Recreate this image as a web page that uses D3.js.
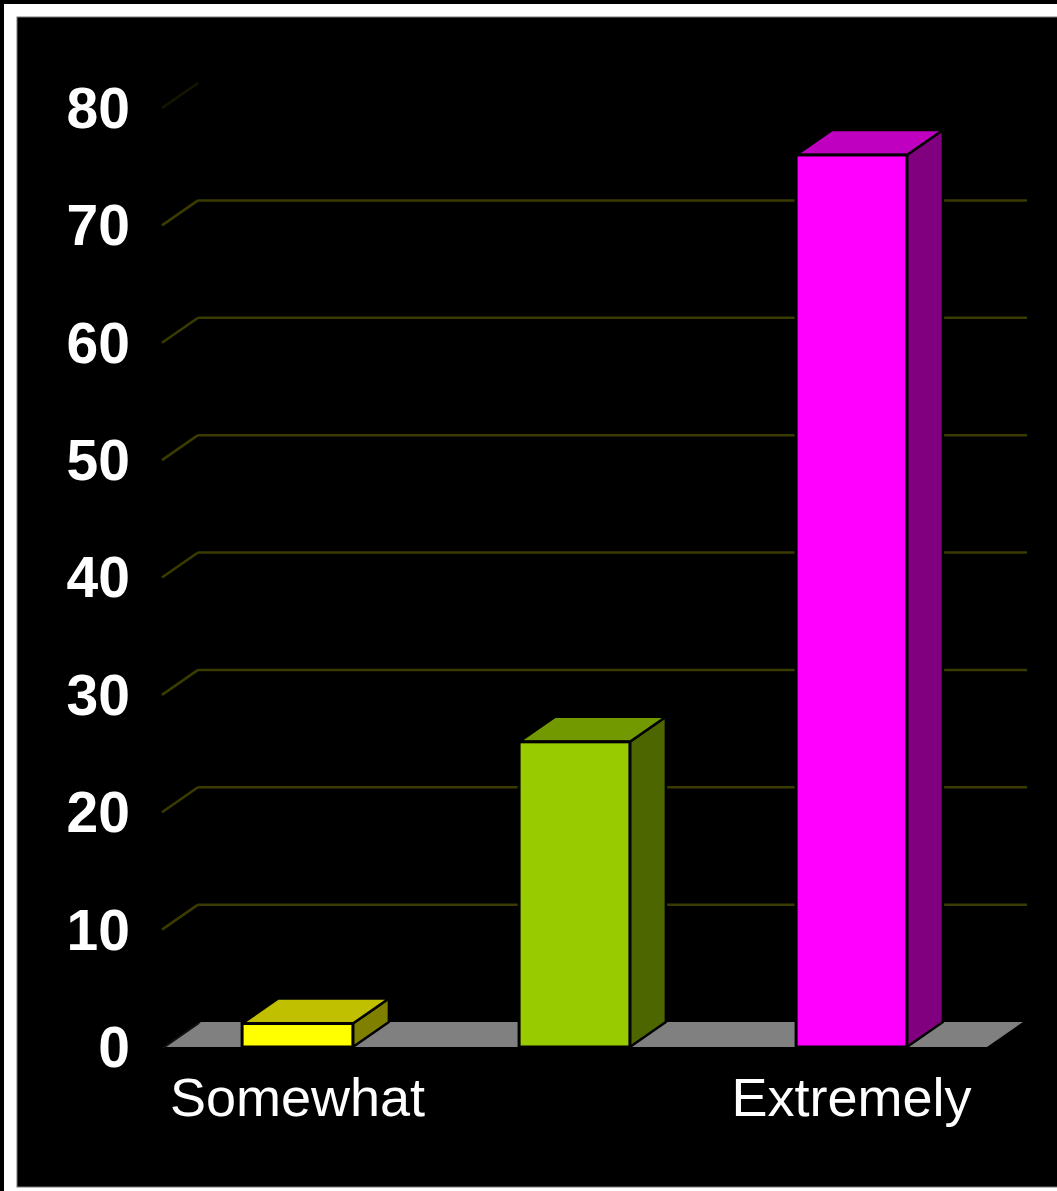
<!DOCTYPE html>
<html>
<head>
<meta charset="utf-8">
<script src="https://cdn.jsdelivr.net/npm/d3@7/dist/d3.min.js"></script>
<style>
  html, body { margin: 0; padding: 0; background: #000; }
  svg { display: block; }
</style>
</head>
<body>
<script>
// Chart data
const categoryLabels = ["Somewhat", "", "Extremely"];
const values = [2, 26, 76];
const yTicks = [0, 10, 20, 30, 40, 50, 60, 70, 80];

// Face colours per bar: front, top, side
const frontColors = ["#ffff00", "#99cc00", "#ff00ff"];
const topColors = ["#c0c000", "#739900", "#c000c0"];
const sideColors = ["#808000", "#4d6600", "#800080"];

const W = 1057, H = 1191;
const depthX = 36, depthY = -25;   // 3D offset to the back wall

const svg = d3.select("body").append("svg")
  .attr("width", W).attr("height", H);

// white frame around the black plot panel
svg.append("rect").attr("x", 0).attr("y", 0).attr("width", W).attr("height", H).attr("fill", "#000");
svg.append("rect").attr("x", 4).attr("y", 4).attr("width", W).attr("height", H - 4).attr("fill", "#fff");
svg.append("rect").attr("x", 17).attr("y", 17).attr("width", W).attr("height", 1170)
  .attr("fill", "#000").attr("stroke", "#777").attr("stroke-width", 1);

const x = d3.scaleBand().domain(d3.range(values.length)).range([159, 990]).paddingInner(0.6).paddingOuter(0.3);
const y = d3.scaleLinear().domain([0, 80]).range([1047, 108]);

// gridlines on the back wall plus the diagonal on the side wall
const wallX = 162;
const grid = svg.append("g");
yTicks.filter(t => t > 0 && t < 80).forEach(t => {
  grid.append("line")
    .attr("x1", wallX + depthX).attr("x2", 1027)
    .attr("y1", y(t) + depthY).attr("y2", y(t) + depthY)
    .attr("stroke", "#3b3b00").attr("stroke-width", 2.5);
});
yTicks.filter(t => t > 0).forEach(t => {
  grid.append("line")
    .attr("x1", wallX).attr("x2", wallX + depthX)
    .attr("y1", y(t)).attr("y2", y(t) + depthY)
    .attr("stroke", t === 80 ? "#161600" : "#3b3b00").attr("stroke-width", 2.5);
});

// floor
const x0 = wallX + 3, x1 = 987;
svg.append("path")
  .attr("d", `M${x0},${y(0)} L${x0 + depthX},${y(0) + depthY} L${x1 + depthX},${y(0) + depthY} L${x1},${y(0)} Z`)
  .attr("fill", "#808080");
svg.append("line")
  .attr("x1", x0 - 2).attr("y1", y(0) + 1).attr("x2", x0 + depthX - 2).attr("y2", y(0) + depthY + 1)
  .attr("stroke", "#111").attr("stroke-width", 2);

// bars
const bars = svg.append("g").selectAll("g").data(values).join("g");
bars.each(function (v, i) {
  const g = d3.select(this);
  const bx = x(i), bw = x.bandwidth(), top = y(v), base = y(0);
  g.append("path")
    .attr("d", `M${bx + bw},${base} L${bx + bw},${top} L${bx + bw + depthX},${top + depthY} L${bx + bw + depthX},${base + depthY} Z`)
    .attr("fill", sideColors[i]).attr("stroke", "#000").attr("stroke-width", 2.5).attr("stroke-linejoin", "round");
  g.append("path")
    .attr("d", `M${bx},${top} L${bx + depthX},${top + depthY} L${bx + bw + depthX},${top + depthY} L${bx + bw},${top} Z`)
    .attr("fill", topColors[i]).attr("stroke", "#000").attr("stroke-width", 2.5).attr("stroke-linejoin", "round");
  g.append("rect")
    .attr("x", bx).attr("y", top).attr("width", bw).attr("height", base - top)
    .attr("fill", frontColors[i]).attr("stroke", "#000").attr("stroke-width", 3);
});

// y axis labels
svg.append("g").selectAll("text").data(yTicks).join("text")
  .attr("x", 130).attr("y", d => y(d)).attr("dy", "0.35em")
  .attr("text-anchor", "end")
  .attr("font-family", "Liberation Sans, Arial, sans-serif")
  .attr("font-weight", "bold").attr("font-size", 57)
  .attr("fill", "#fff")
  .text(d => d);

// category labels
svg.append("g").selectAll("text").data(categoryLabels).join("text")
  .attr("x", (d, i) => x(i) + x.bandwidth() / 2).attr("y", 1116)
  .attr("text-anchor", "middle")
  .attr("font-family", "Liberation Sans, Arial, sans-serif")
  .attr("font-size", 54)
  .attr("fill", "#fff")
  .text(d => d);
</script>
</body>
</html>
